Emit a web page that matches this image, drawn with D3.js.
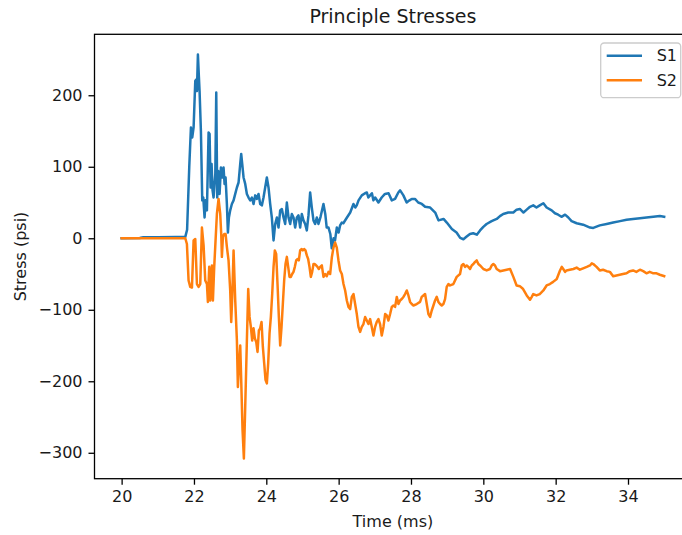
<!DOCTYPE html>
<html>
<head>
<meta charset="utf-8">
<script src="https://cdn.jsdelivr.net/npm/d3@7/dist/d3.min.js"></script>
<style>
  html, body { margin: 0; padding: 0; background: #fff; }
  svg { display: block; font-family: "DejaVu Sans", sans-serif; }
</style>
</head>
<body>
<svg id="chart" width="682" height="535"></svg>
<script>
// Principal stress histories (psi) against time (ms)
const s1Time = [20.0,20.5,20.6,21.0,21.5,21.76,21.81,21.87,21.916,21.953,21.99,22.036,22.063,22.082,22.109,22.137,22.155,22.192,22.229,22.257,22.293,22.321,22.358,22.404,22.432,22.459,22.487,22.514,22.542,22.59,22.616,22.643,22.671,22.708,22.745,22.781,22.818,22.846,22.874,22.91,22.938,22.966,23.002,23.048,23.095,23.141,23.187,23.233,23.279,23.306,23.334,23.371,23.417,23.463,23.509,23.555,23.601,23.647,23.693,23.739,23.785,23.831,23.877,23.923,23.969,24.015,24.061,24.107,24.153,24.2,24.246,24.292,24.338,24.384,24.43,24.476,24.522,24.568,24.614,24.66,24.706,24.752,24.798,24.844,24.89,24.936,24.982,25.028,25.074,25.12,25.166,25.212,25.258,25.304,25.35,25.396,25.442,25.5,25.58,25.63,25.67,25.72,25.77,25.81,25.86,25.9,25.95,26.0,26.04,26.09,26.13,26.23,26.32,26.41,26.46,26.5,26.55,26.64,26.73,26.78,26.82,26.87,26.92,26.96,27.01,27.1,27.19,27.28,27.38,27.47,27.56,27.65,27.7,27.79,27.88,27.96,28.02,28.11,28.2,28.3,28.39,28.53,28.67,28.76,28.9,28.99,29.13,29.26,29.36,29.45,29.54,29.63,29.72,29.82,29.91,30.0,30.09,30.23,30.37,30.46,30.55,30.69,30.83,30.92,31.01,31.11,31.2,31.29,31.38,31.47,31.56,31.66,31.75,31.89,31.98,32.07,32.16,32.26,32.35,32.44,32.58,32.76,32.95,33.04,33.22,33.41,33.59,33.78,33.96,34.14,34.33,34.51,34.7,34.88,35.0];
const s1Stress = [0,0.5,1.5,1.5,1.8,2,12,100,155,141,155,220,222,206,257,225,206,150,53,57,29,53,39,148,146,71,104,67,57,90,204,57,94,62,99,85,99,76,85,48,8,29,39,48,53,62,71,78,104,118,104,85,76,62,57,53,57,48,60,55,62,48,46,57,71,85,71,48,29,-3,20,29,15,39,41,29,20,50,29,20,34,29,15,29,32,15,34,25,20,11,32,64,43,25,20,29,20,30,48,34,15,15,6,-14,0,-3,15,8,18,22,21,29,36,48,43,46,53,60,63,64,57,60,63,53,57,50,57,62,63,53,55,64,67,60,50,53,55,55,50,48,44,43,36,25,27,22,13,8,0.5,-1.4,2.4,6,7,5,11,16,20,24,27,31,34,36,36,40,41,36,40,44,46,43,46,49,43,39,35,33,30,33,29,24,21,19,15,14.5,18,20,22,24,26,27,28,29,30,31,30];

const s2Time = [20.0,21.76,21.805,21.851,21.897,21.944,21.99,22.036,22.082,22.128,22.174,22.22,22.266,22.312,22.358,22.385,22.422,22.45,22.496,22.524,22.56,22.588,22.634,22.68,22.726,22.754,22.772,22.8,22.837,22.874,22.91,22.956,23.002,23.03,23.058,23.095,23.141,23.187,23.214,23.242,23.279,23.306,23.343,23.38,23.417,23.463,23.5,23.537,23.573,23.61,23.647,23.684,23.721,23.757,23.794,23.831,23.868,23.905,23.942,23.978,24.015,24.052,24.089,24.126,24.163,24.2,24.236,24.273,24.31,24.347,24.384,24.421,24.457,24.494,24.531,24.568,24.605,24.642,24.678,24.715,24.752,24.789,24.826,24.862,24.899,24.936,24.973,25.01,25.047,25.083,25.12,25.157,25.194,25.231,25.268,25.305,25.341,25.378,25.415,25.452,25.489,25.535,25.581,25.627,25.673,25.719,25.765,25.811,25.857,25.903,25.949,25.995,26.041,26.088,26.134,26.18,26.226,26.272,26.318,26.364,26.41,26.456,26.502,26.548,26.594,26.64,26.686,26.732,26.778,26.824,26.87,26.916,26.962,27.008,27.054,27.1,27.146,27.192,27.239,27.285,27.331,27.377,27.423,27.469,27.515,27.561,27.607,27.653,27.699,27.745,27.791,27.837,27.883,27.929,27.975,28.021,28.067,28.159,28.251,28.297,28.343,28.39,28.436,28.482,28.528,28.574,28.62,28.666,28.712,28.758,28.804,28.85,28.896,28.942,28.988,29.034,29.08,29.172,29.264,29.356,29.402,29.448,29.495,29.541,29.587,29.633,29.679,29.725,29.771,29.817,29.863,29.909,30.001,30.093,30.185,30.231,30.277,30.323,30.369,30.461,30.553,30.646,30.74,30.83,30.92,31.01,31.1,31.2,31.29,31.34,31.38,31.47,31.56,31.66,31.75,31.84,31.93,32.03,32.12,32.17,32.21,32.26,32.3,32.39,32.49,32.58,32.67,32.76,32.86,32.95,33.0,33.04,33.13,33.22,33.31,33.41,33.5,33.59,33.68,33.77,33.86,33.96,34.05,34.14,34.23,34.33,34.42,34.51,34.6,34.7,34.79,34.88,35.0];
const s2Stress = [0,0,-8,-59,-68,-69,-3,-1,-64,-68,-64,15,-10,-59,-64,-89,-40,-87,-38,-87,-40,-12,34,55,34,6,-26,2,6,6,-12,-31,-73,-117,-82,-17,-87,-143,-208,-180,-150,-198,-268,-308,-236,-143,-71,-110,-124,-143,-126,-140,-145,-159,-129,-126,-117,-152,-175,-198,-203,-175,-133,-110,-78,-40,-17,-22,-64,-110,-150,-124,-92,-59,-36,-26,-40,-54,-54,-50,-47,-40,-31,-29,-31,-17,-15,-17,-15,-17,-24,-29,-40,-54,-47,-36,-36,-38,-40,-43,-40,-38,-54,-50,-53,-47,-50,-27,-13,-6,-13,-31,-45,-50,-64,-73,-87,-96,-99,-82,-78,-92,-106,-124,-131,-124,-120,-110,-115,-120,-113,-124,-136,-124,-117,-113,-120,-136,-124,-106,-108,-115,-106,-96,-94,-96,-82,-92,-87,-85,-82,-78,-73,-80,-89,-92,-94,-92,-89,-82,-80,-78,-92,-106,-110,-101,-94,-87,-82,-89,-92,-94,-92,-85,-68,-64,-66,-64,-54,-50,-38,-36,-40,-38,-40,-43,-38,-36,-33,-31,-36,-38,-43,-45,-43,-38,-36,-38,-43,-46,-45,-44,-43,-54,-66,-67,-71,-80,-86,-82,-78,-80,-78,-73,-66,-64,-61,-57,-45,-40,-43,-47,-45,-44,-43,-41,-44,-42,-40,-38,-35,-36,-40,-45,-44,-46,-47,-53,-52,-51,-50,-49,-46,-45,-47,-44,-46,-49,-47,-49,-49,-51,-53];

const seriesNames = ["S1", "S2"];
const seriesColors = ["#1f77b4", "#ff7f0e"];
const xTicks = [20, 22, 24, 26, 28, 30, 32, 34];
const yTicks = [-300, -200, -100, 0, 100, 200];
const titleText = "Principle Stresses";
const xLabel = "Time (ms)";
const yLabel = "Stress (psi)";

const W = 682, H = 535;
const plot = { left: 94.5, top: 34.3, right: 691.3, bottom: 478.7 };

const series = [
  s1Time.map((t, i) => ({ t, v: s1Stress[i] })),
  s2Time.map((t, i) => ({ t, v: s2Stress[i] }))
];

// Axis limits padded 5% beyond the data, like the usual plotting default
const allT = s1Time.concat(s2Time), allV = s1Stress.concat(s2Stress);
const [tMin, tMax] = d3.extent(allT), [vMin, vMax] = d3.extent(allV);
const tPad = (tMax - tMin) * 0.05, vPad = (vMax - vMin) * 0.05;

const x = d3.scaleLinear().domain([tMin - tPad, tMax + tPad]).range([plot.left, plot.right]);
const y = d3.scaleLinear().domain([vMin - vPad, vMax + vPad]).range([plot.bottom, plot.top]);

const svg = d3.select("#chart");

svg.append("defs").append("clipPath").attr("id", "plotClip")
  .append("rect")
  .attr("x", plot.left).attr("y", plot.top)
  .attr("width", plot.right - plot.left).attr("height", plot.bottom - plot.top);

const line = d3.line().x(d => x(d.t)).y(d => y(d.v));

svg.append("g").attr("clip-path", "url(#plotClip)")
  .selectAll("path")
  .data(series)
  .join("path")
  .attr("d", line)
  .attr("fill", "none")
  .attr("stroke", (d, i) => seriesColors[i])
  .attr("stroke-width", 2.5)
  .attr("stroke-linejoin", "round")
  .attr("stroke-linecap", "square");

// Frame
svg.append("rect")
  .attr("x", plot.left).attr("y", plot.top)
  .attr("width", plot.right - plot.left).attr("height", plot.bottom - plot.top)
  .attr("fill", "none").attr("stroke", "#000").attr("stroke-width", 1.3);

const tickFont = 16;

const xAxis = svg.append("g")
  .attr("transform", `translate(0,${plot.bottom})`)
  .call(d3.axisBottom(x).tickValues(xTicks).tickSize(6).tickPadding(6).tickFormat(d3.format("d")));
const yAxis = svg.append("g")
  .attr("transform", `translate(${plot.left},0)`)
  .call(d3.axisLeft(y).tickValues(yTicks).tickSize(6).tickPadding(6)
    .tickFormat(d => d < 0 ? "\u2212" + Math.abs(d) : String(d)));

[xAxis, yAxis].forEach(g => {
  g.select(".domain").remove();
  g.selectAll(".tick line").attr("stroke", "#000").attr("stroke-width", 1.3);
  g.selectAll(".tick text")
    .attr("fill", "#1a1a1a")
    .style("font-family", "'DejaVu Sans', sans-serif")
    .style("font-size", tickFont + "px");
});

svg.append("text")
  .attr("x", (plot.left + plot.right) / 2).attr("y", 23)
  .attr("text-anchor", "middle")
  .style("font-size", "19px").attr("fill", "#1a1a1a")
  .text(titleText);

svg.append("text")
  .attr("x", (plot.left + plot.right) / 2).attr("y", 527)
  .attr("text-anchor", "middle")
  .style("font-size", tickFont + "px").attr("fill", "#1a1a1a")
  .text(xLabel);

svg.append("text")
  .attr("transform", `translate(26,${(plot.top + plot.bottom) / 2}) rotate(-90)`)
  .attr("text-anchor", "middle")
  .style("font-size", tickFont + "px").attr("fill", "#1a1a1a")
  .text(yLabel);

// Legend
const legend = svg.append("g").attr("transform", "translate(600.7,43)");
legend.append("rect")
  .attr("width", 80).attr("height", 54.7).attr("rx", 3.5)
  .attr("fill", "#fff").attr("fill-opacity", 0.8)
  .attr("stroke", "#cccccc").attr("stroke-width", 1.3);
seriesNames.forEach((name, i) => {
  const cy = 12.7 + i * 24.6;
  legend.append("line")
    .attr("x1", 6).attr("x2", 41.3).attr("y1", cy).attr("y2", cy)
    .attr("stroke", seriesColors[i]).attr("stroke-width", 2.5);
  legend.append("text")
    .attr("x", 56).attr("y", cy).attr("dy", "0.36em")
    .style("font-size", tickFont + "px").attr("fill", "#1a1a1a")
    .text(name);
});
</script>
</body>
</html>
